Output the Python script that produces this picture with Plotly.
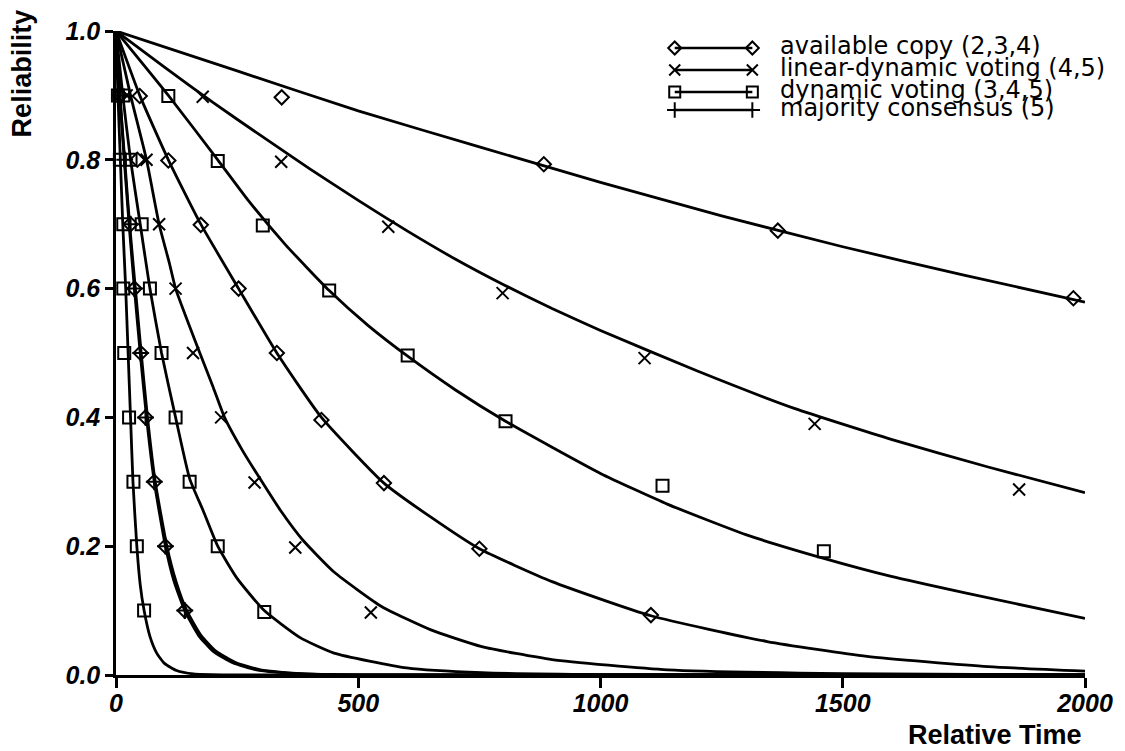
import plotly.graph_objects as go

# ---------------- data ----------------
X_TICKS = [0, 500, 1000, 1500, 2000]
Y_TICKS = [0.0, 0.2, 0.4, 0.6, 0.8, 1.0]
Y_TICK_TEXT = ["0.0", "0.2", "0.4", "0.6", "0.8", "1.0"]

SERIES_NAMES = ["available copy (2,3,4)", "linear-dynamic voting (4,5)",
                "dynamic voting (3,4,5)", "majority consensus (5)"]

# analytic curves (relative time, reliability)
AC4_T = [0, 250, 500, 750, 1000, 1250, 1500, 1750, 2000]
AC4_R = [1.0, 0.938, 0.876, 0.820, 0.765, 0.713, 0.665, 0.621, 0.579]

LDV5_T = [0, 100, 200, 300, 400, 500, 600, 700, 800, 900, 1000, 1200, 1400, 1600, 1800, 2000]
LDV5_R = [1.0, 0.944, 0.889, 0.837, 0.786, 0.737, 0.690, 0.646, 0.606, 0.569, 0.535, 0.472, 0.414, 0.366, 0.323, 0.283]

DV5_T = [0, 108, 210, 275, 350, 440, 520, 602, 700, 804, 1000, 1139, 1300, 1461, 1600, 1755, 2000]
DV5_R = [1.0, 0.90, 0.80, 0.735, 0.668, 0.597, 0.543, 0.495, 0.443, 0.394, 0.313, 0.265, 0.218, 0.181, 0.153, 0.127, 0.088]

AC3_T = [0, 49, 108, 175, 253, 332, 424, 553, 650, 750, 900, 1104, 1344, 1550, 1800, 2000]
AC3_R = [1.0, 0.90, 0.80, 0.70, 0.60, 0.50, 0.40, 0.298, 0.245, 0.196, 0.145, 0.092, 0.052, 0.029, 0.013, 0.006]

LDV4_T = [0, 30, 63, 89, 110, 123, 150, 173, 200, 224, 260, 303, 340, 385, 450, 549, 650, 755, 900, 1139, 1500, 2000]
LDV4_R = [1.0, 0.9, 0.8, 0.7, 0.64, 0.6, 0.545, 0.5, 0.448, 0.4, 0.35, 0.298, 0.255, 0.21, 0.16, 0.106, 0.07, 0.044, 0.024, 0.008, 0.002, 0.0]

DV4_T = [0, 14, 30, 50, 70, 94, 123, 152, 180, 210, 250, 306, 380, 450, 600, 755, 1000, 2000]
DV4_R = [1.0, 0.9, 0.8, 0.7, 0.6, 0.5, 0.4, 0.305, 0.255, 0.2, 0.15, 0.1, 0.058, 0.034, 0.011, 0.0035, 0.0006, 0.0]

AC2_T = [0, 8, 17, 27, 38, 50, 63, 79, 102, 120, 142, 170, 200, 241, 290, 330, 400, 500, 2000]
AC2_R = [1.0, 0.9, 0.8, 0.7, 0.6, 0.5, 0.4, 0.3, 0.2, 0.145, 0.1, 0.062, 0.037, 0.019, 0.008, 0.0045, 0.0013, 0.0003, 0.0]

MC5_T = [0, 8, 18, 28, 40, 52, 65, 81, 105, 124, 146, 175, 206, 248, 298, 338, 410, 510, 2000]
MC5_R = [1.0, 0.9, 0.8, 0.7, 0.6, 0.5, 0.4, 0.3, 0.2, 0.145, 0.1, 0.062, 0.037, 0.019, 0.008, 0.0045, 0.0013, 0.0003, 0.0]

DV3_T = [0, 4, 9, 14, 20, 25, 30, 35, 43, 50, 58, 70, 84, 100, 125, 160, 220, 2000]
DV3_R = [1.0, 0.9, 0.8, 0.7, 0.6, 0.5, 0.4, 0.3, 0.2, 0.14, 0.1, 0.06, 0.034, 0.018, 0.007, 0.0017, 0.0002, 0.0]

# simulation points (markers)
AC4_PT_T = [342, 883, 1366, 1976]
AC4_PT_R = [0.897, 0.793, 0.690, 0.585]
AC3_PT_T = [49, 108, 175, 253, 332, 424, 553, 750, 1104]
AC3_PT_R = [0.899, 0.799, 0.699, 0.600, 0.500, 0.396, 0.298, 0.196, 0.093]
AC2_PT_T = [9, 44, 30, 38, 51, 61, 79, 102, 142]
AC2_PT_R = [0.900, 0.800, 0.700, 0.600, 0.500, 0.400, 0.300, 0.200, 0.100]

LDV5_PT_T = [179, 341, 562, 798, 1091, 1442, 1864]
LDV5_PT_R = [0.898, 0.797, 0.696, 0.593, 0.492, 0.390, 0.288]
LDV4_PT_T = [22, 63, 89, 123, 159, 217, 286, 370, 526]
LDV4_PT_R = [0.900, 0.800, 0.700, 0.600, 0.500, 0.400, 0.299, 0.198, 0.097]

DV5_PT_T = [108, 210, 303, 440, 602, 804, 1128, 1461, 2016]
DV5_PT_R = [0.899, 0.798, 0.698, 0.597, 0.496, 0.394, 0.294, 0.192, 0.088]
DV4_PT_T = [15, 30, 53, 70, 94, 123, 152, 210, 306]
DV4_PT_R = [0.900, 0.800, 0.700, 0.600, 0.500, 0.400, 0.300, 0.200, 0.098]
DV3_PT_T = [4, 8, 15, 15, 17, 27, 36, 43, 58]
DV3_PT_R = [0.900, 0.800, 0.700, 0.600, 0.500, 0.400, 0.300, 0.200, 0.100]

MC5_PT_T = [8, 18, 30, 38, 51, 61, 79, 102, 142]
MC5_PT_R = [0.900, 0.800, 0.700, 0.600, 0.500, 0.400, 0.300, 0.200, 0.100]

# ---------------- figure ----------------
FONT = "Liberation Sans, Arial, Helvetica, sans-serif"
LEG_FONT = "DejaVu Sans, Liberation Sans, sans-serif"
SYMBOLS = ["diamond-open", "x-thin-open", "square-open", "cross-thin-open"]
SIZES = [11, 12, 12, 12]

curves = [
    (0, AC4_T, AC4_R, AC4_PT_T, AC4_PT_R),
    (1, LDV5_T, LDV5_R, LDV5_PT_T, LDV5_PT_R),
    (2, DV5_T, DV5_R, DV5_PT_T, DV5_PT_R),
    (0, AC3_T, AC3_R, AC3_PT_T, AC3_PT_R),
    (1, LDV4_T, LDV4_R, LDV4_PT_T, LDV4_PT_R),
    (2, DV4_T, DV4_R, DV4_PT_T, DV4_PT_R),
    (0, AC2_T, AC2_R, AC2_PT_T, AC2_PT_R),
    (3, MC5_T, MC5_R, MC5_PT_T, MC5_PT_R),
    (2, DV3_T, DV3_R, DV3_PT_T, DV3_PT_R),
]

fig = go.Figure()

for s, lt, lr, pt, pr in curves:
    fig.add_trace(go.Scatter(
        x=lt, y=lr, mode="lines",
        line=dict(color="black", width=2.8, shape="spline", smoothing=0.5),
        showlegend=False, hoverinfo="skip", name=SERIES_NAMES[s]))

for s, lt, lr, pt, pr in curves:
    fig.add_trace(go.Scatter(
        x=pt, y=pr, mode="markers", cliponaxis=False,
        marker=dict(symbol=SYMBOLS[s], size=SIZES[s], color="black",
                    line=dict(color="black", width=2)),
        showlegend=False, name=SERIES_NAMES[s]))

# custom legend (glyph line with markers at both ends), in plot-fraction axes
LEG_X0, LEG_X1, LEG_TX = 0.5766, 0.6567, 0.6845
LEG_Y = [0.9736, 0.9394, 0.9053, 0.8773]
for i, name in enumerate(SERIES_NAMES):
    fig.add_trace(go.Scatter(
        x=[LEG_X0, LEG_X1], y=[LEG_Y[i], LEG_Y[i]], xaxis="x2", yaxis="y2",
        mode="lines+markers", cliponaxis=False,
        line=dict(color="black", width=2.5),
        marker=dict(symbol=SYMBOLS[i], size=SIZES[i] - 1, color="black",
                    line=dict(color="black", width=2)),
        showlegend=False, hoverinfo="skip", name=name))
    fig.add_annotation(xref="x2", yref="y2", x=LEG_TX, y=LEG_Y[i] + 0.003, text=name,
                       showarrow=False, xanchor="left", yanchor="middle", borderpad=0,
                       font=dict(family=LEG_FONT, size=24, color="black"))

tickfont = dict(family=FONT, size=25, color="black", weight="bold", style="italic")

fig.update_layout(
    width=1125, height=751,
    margin=dict(l=116, r=36, t=31, b=76),
    paper_bgcolor="white", plot_bgcolor="white",
    showlegend=False,
    xaxis=dict(range=[0, 2000], tickvals=X_TICKS, ticks="outside", ticklen=10, tickwidth=2.5,
               tickcolor="black", showline=True, linewidth=2.5, linecolor="black",
               showgrid=False, zeroline=False, tickfont=tickfont, ticklabelstandoff=-6),
    yaxis=dict(range=[0, 1], tickvals=Y_TICKS, ticktext=Y_TICK_TEXT, ticks="outside",
               ticklen=8, tickwidth=2.5, tickcolor="black", showline=True, linewidth=2.5,
               linecolor="black", showgrid=False, zeroline=False, tickfont=tickfont),
    xaxis2=dict(overlaying="x", range=[0, 1], visible=False),
    yaxis2=dict(overlaying="y", range=[0, 1], visible=False),
)

fig.add_annotation(xref="paper", yref="paper", x=-0.0966, y=0.9348, text="Reliability",
                   textangle=-90, showarrow=False, xanchor="center", yanchor="middle",
                   borderpad=0,
                   font=dict(family=FONT, size=27, color="black", weight="bold"))
fig.add_annotation(xref="paper", yref="paper", x=0.907, y=-0.0925, text="Relative Time",
                   showarrow=False, xanchor="center", yanchor="middle", borderpad=0,
                   font=dict(family=FONT, size=27, color="black", weight="bold"))

fig.write_html("out.html", config={"displayModeBar": False},
               post_script="document.body.style.margin='0';document.body.style.overflow='hidden';")
